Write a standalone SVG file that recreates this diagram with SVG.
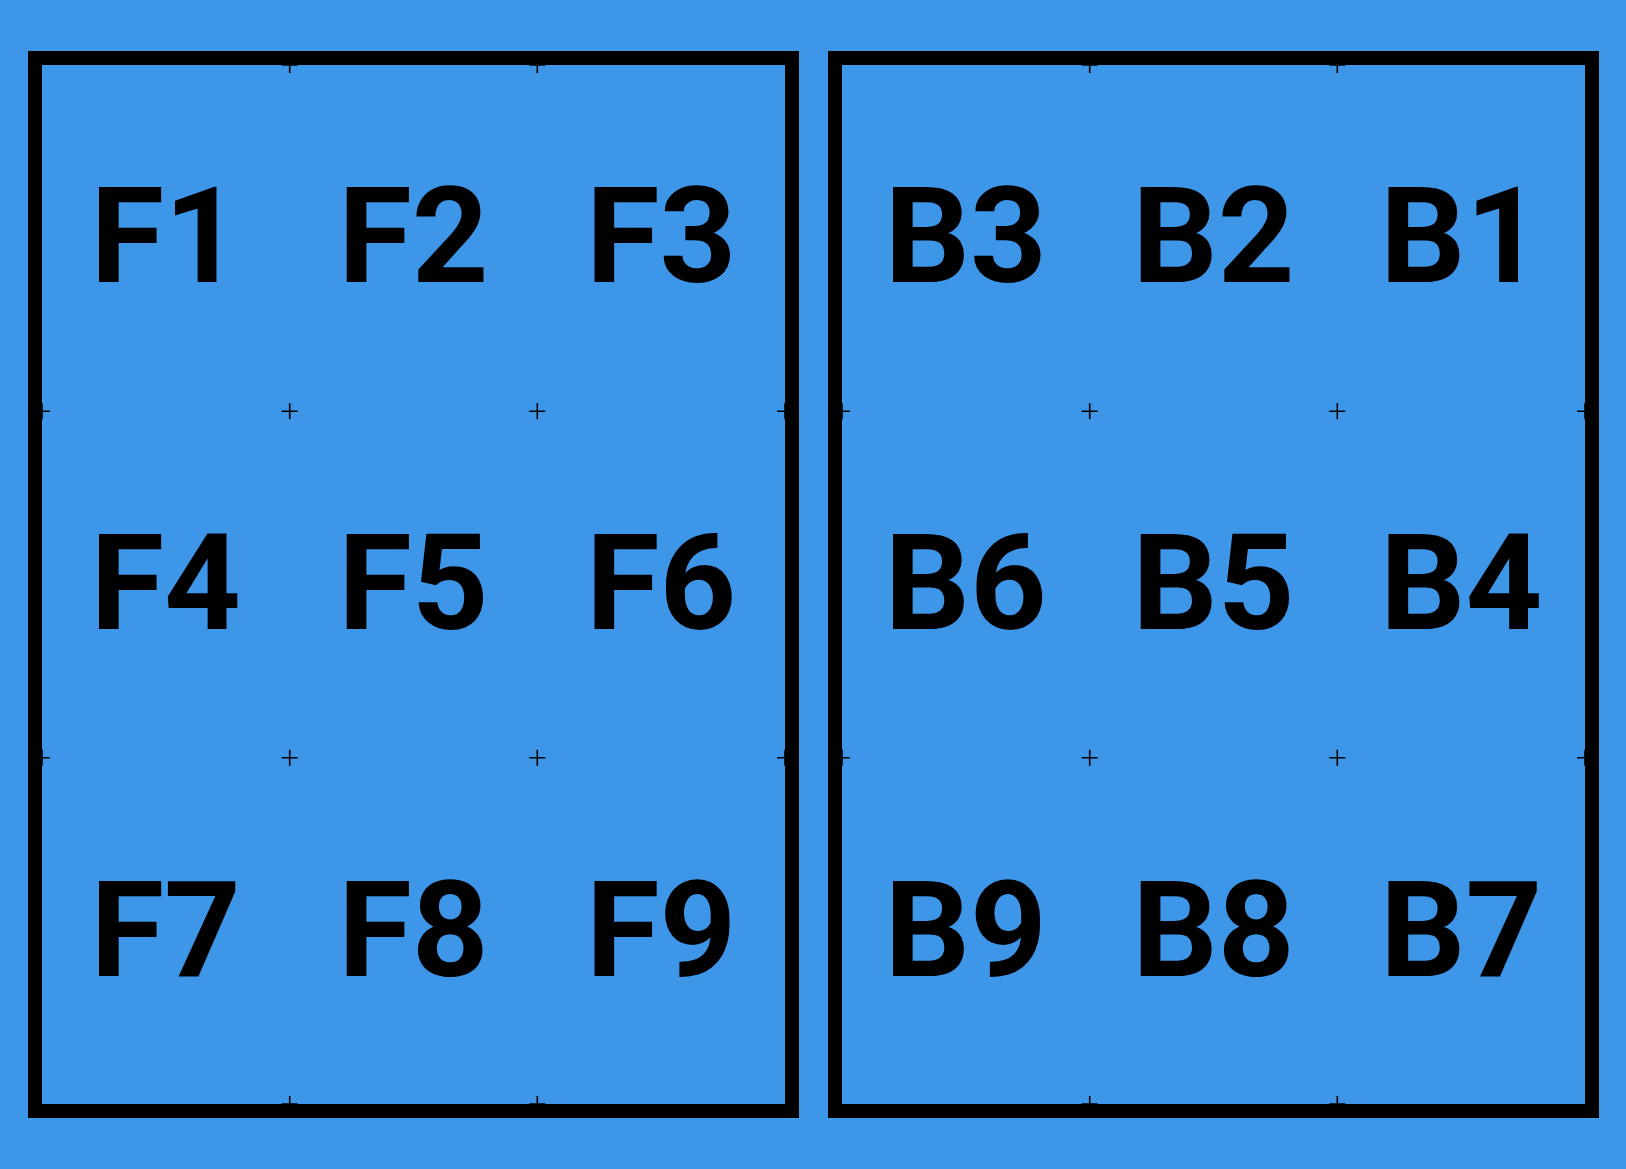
<svg xmlns="http://www.w3.org/2000/svg" xmlns:xlink="http://www.w3.org/1999/xlink" width="1626" height="1169" viewBox="0 0 1626 1169">
  <style>
    .panel { fill: none; stroke: #000; stroke-width: 14; }
    .lbl { font-family: Roboto, "Liberation Sans", sans-serif; font-weight: 700; font-size: 134px; fill: #000; text-anchor: middle; }
    .cross { stroke: #000; stroke-width: 1.6; fill: none; }
  </style>
  <defs>
    <path id="x" class="cross" d="M-8 0H8M0-8V8"/>
  </defs>
  <rect width="1626" height="1169" fill="#3E96E9"/>
  <g id="marks">
    <use xlink:href="#x" x="289.7" y="65"/><use xlink:href="#x" x="537.3" y="65"/>
    <use xlink:href="#x" x="42" y="411.3"/><use xlink:href="#x" x="289.7" y="411.3"/><use xlink:href="#x" x="537.3" y="411.3"/><use xlink:href="#x" x="785" y="411.3"/>
    <use xlink:href="#x" x="42" y="757.7"/><use xlink:href="#x" x="289.7" y="757.7"/><use xlink:href="#x" x="537.3" y="757.7"/><use xlink:href="#x" x="785" y="757.7"/>
    <use xlink:href="#x" x="289.7" y="1104"/><use xlink:href="#x" x="537.3" y="1104"/>
    <use xlink:href="#x" x="1089.7" y="65"/><use xlink:href="#x" x="1337.3" y="65"/>
    <use xlink:href="#x" x="842" y="411.3"/><use xlink:href="#x" x="1089.7" y="411.3"/><use xlink:href="#x" x="1337.3" y="411.3"/><use xlink:href="#x" x="1585" y="411.3"/>
    <use xlink:href="#x" x="842" y="757.7"/><use xlink:href="#x" x="1089.7" y="757.7"/><use xlink:href="#x" x="1337.3" y="757.7"/><use xlink:href="#x" x="1585" y="757.7"/>
    <use xlink:href="#x" x="1089.7" y="1104"/><use xlink:href="#x" x="1337.3" y="1104"/>
  </g>
  <g id="front">
    <rect class="panel" x="35" y="58" width="757" height="1053"/>
    <g id="F1"><text class="lbl" x="165.8" y="282">F1</text></g>
    <g id="F2"><text class="lbl" x="413.5" y="282">F2</text></g>
    <g id="F3"><text class="lbl" x="661.2" y="282">F3</text></g>
    <g id="F4"><text class="lbl" x="165.8" y="629">F4</text></g>
    <g id="F5"><text class="lbl" x="413.5" y="629">F5</text></g>
    <g id="F6"><text class="lbl" x="661.2" y="629">F6</text></g>
    <g id="F7"><text class="lbl" x="165.8" y="976">F7</text></g>
    <g id="F8"><text class="lbl" x="413.5" y="976">F8</text></g>
    <g id="F9"><text class="lbl" x="661.2" y="976">F9</text></g>
  </g>
  <g id="back">
    <rect class="panel" x="835" y="58" width="757" height="1053"/>
    <g id="B3"><text class="lbl" x="965.8" y="282">B3</text></g>
    <g id="B2"><text class="lbl" x="1213.5" y="282">B2</text></g>
    <g id="B1"><text class="lbl" x="1461.2" y="282">B1</text></g>
    <g id="B6"><text class="lbl" x="965.8" y="629">B6</text></g>
    <g id="B5"><text class="lbl" x="1213.5" y="629">B5</text></g>
    <g id="B4"><text class="lbl" x="1461.2" y="629">B4</text></g>
    <g id="B9"><text class="lbl" x="965.8" y="976">B9</text></g>
    <g id="B8"><text class="lbl" x="1213.5" y="976">B8</text></g>
    <g id="B7"><text class="lbl" x="1461.2" y="976">B7</text></g>
  </g>
</svg>
